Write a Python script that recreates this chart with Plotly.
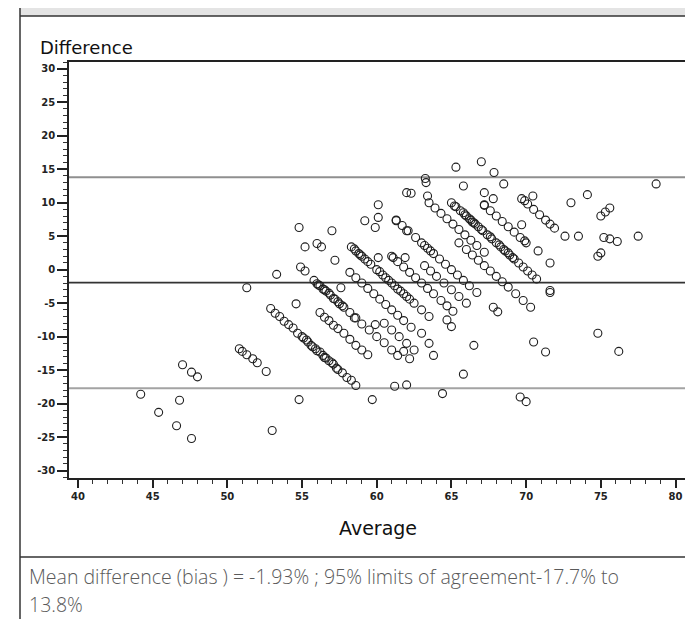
import plotly.graph_objects as go

# ---------------- data ----------------
left_avg = [44.2, 45.4, 46.6, 46.8, 47.0, 47.6, 48.0, 47.6]
left_diff = [-18.6, -21.3, -23.3, -19.5, -14.2, -15.3, -16.0, -25.2]

mid_left_avg = [51.3, 53.3, 53.0, 54.8, 54.6, 50.8, 51.0, 51.3, 51.7, 52.0, 52.6,
                54.8, 55.2, 54.9, 55.2, 56.0, 56.3, 57.0, 57.2, 57.6]
mid_left_diff = [-2.7, -0.7, -24.0, -19.4, -5.1, -11.8, -12.2, -12.7, -13.3, -13.9, -15.2,
                 6.3, 3.4, 0.4, -0.2, 3.9, 3.4, 5.8, 1.4, -2.7]

band50_avg = [52.9, 53.2, 53.5, 53.8, 54.1, 54.4, 54.7, 55.0, 55.3, 55.6, 55.9, 56.2, 56.5,
              56.8, 57.1, 57.4, 57.7, 58.0, 58.3, 58.6, 55.7, 56.0, 56.6, 57.0, 57.3,
              55.1, 55.4, 56.4]
band50_diff = [-5.8, -6.5, -7.0, -7.7, -8.2, -8.7, -9.5, -10.0, -10.5, -11.3, -11.8, -12.3, -13.1,
               -13.6, -14.1, -14.9, -15.4, -16.1, -16.5, -17.3, -11.5, -12.1, -13.2, -13.9, -14.7,
               -10.2, -10.8, -12.8]

band53_avg = [56.2, 56.5, 56.8, 57.1, 57.4, 57.8, 58.2, 58.6, 59.0, 59.4]
band53_diff = [-6.4, -7.1, -7.6, -8.3, -8.8, -9.5, -10.4, -11.3, -12.0, -12.7]

band55_avg = [55.8, 56.0, 56.2, 56.4, 56.6, 56.9, 57.2, 57.5, 57.8, 58.2, 58.6, 59.0, 59.5,
              60.0, 60.5, 61.0, 61.4, 56.1, 56.5, 56.8, 57.1, 57.4, 57.7]
band55_diff = [-1.6, -2.1, -2.4, -2.9, -3.2, -3.8, -4.4, -5.1, -5.6, -6.4, -7.2, -8.1, -9.0,
               -10.0, -10.9, -12.0, -12.8, -2.3, -3.0, -3.5, -4.3, -4.8, -5.4]

band58_avg = [58.2, 58.6, 59.0, 59.4, 59.8, 60.2, 60.6, 61.0, 61.4, 61.8, 62.3]
band58_diff = [-0.4, -1.2, -2.0, -2.8, -3.6, -4.4, -5.2, -6.0, -6.8, -7.6, -8.6]

band60_avg = [58.3, 58.6, 58.9, 59.2, 59.6, 60.0, 60.4, 60.8, 61.2, 61.6, 62.0, 62.5, 63.0,
              63.5, 58.5, 58.8, 60.2, 60.6, 61.0, 61.4, 59.0, 59.4, 61.8, 62.2]
band60_diff = [3.4, 2.8, 2.2, 1.6, 0.8, 0.0, -0.8, -1.6, -2.4, -3.2, -4.0, -5.0, -6.0,
               -7.0, 3.1, 2.4, -0.3, -1.2, -2.0, -2.9, 2.0, 1.2, -3.6, -4.4]

band62_avg = [61.0, 61.4, 61.8, 62.2, 62.6, 63.0, 63.4, 63.8, 64.3, 64.7, 65.1]
band62_diff = [2.0, 1.2, 0.4, -0.4, -1.2, -2.0, -2.8, -3.6, -4.6, -5.4, -6.2]

band63_avg = [63.2, 63.6, 64.0, 64.5, 65.0, 65.5, 66.0]
band63_diff = [0.6, -0.2, -1.0, -2.0, -3.0, -4.0, -5.0]

band65_avg = [61.3, 61.7, 62.1, 62.6, 63.0, 63.4, 63.8, 64.2, 64.6, 65.0, 65.4, 65.8, 66.2, 66.7,
              63.2, 63.6]
band65_diff = [7.4, 6.6, 5.8, 4.8, 4.0, 3.2, 2.4, 1.6, 0.8, 0.0, -0.8, -1.6, -2.4, -3.4,
               3.6, 2.8]

band67_avg = [65.5, 66.0, 66.4, 66.8, 67.2, 67.6, 68.0, 68.4, 68.8, 69.3, 69.8, 70.3]
band67_diff = [4.0, 3.0, 2.2, 1.4, 0.6, -0.2, -1.0, -1.8, -2.6, -3.6, -4.6, -5.6]

band68_avg = [63.5, 63.9, 64.3, 64.7, 65.1, 65.5, 65.9, 66.3, 66.7, 67.2]
band68_diff = [10.0, 9.2, 8.4, 7.6, 6.8, 6.0, 5.2, 4.4, 3.6, 2.6]

band70_avg = [65.0, 65.3, 65.6, 65.9, 66.2, 66.5, 66.8, 67.1, 67.4, 67.7, 68.0, 68.3, 68.6,
              68.9, 69.2, 69.5, 69.8, 70.1, 70.4, 70.7, 65.2, 65.8, 66.4, 67.0, 67.6,
              68.2, 68.5, 68.8, 69.1, 66.0, 66.3, 66.6]
band70_diff = [10.0, 9.4, 8.8, 8.2, 7.6, 7.0, 6.4, 5.8, 5.2, 4.6, 4.0, 3.4, 2.8,
               2.2, 1.6, 1.0, 0.4, -0.2, -0.8, -1.4, 9.5, 8.5, 7.1, 6.0, 4.9,
               3.7, 3.0, 2.5, 1.8, 8.0, 7.4, 6.8]

band72_avg = [67.2, 67.6, 68.0, 68.4, 68.8, 69.2, 69.6, 70.0]
band72_diff = [9.6, 8.8, 8.0, 7.2, 6.4, 5.6, 4.8, 4.0]

band75_avg = [69.7, 70.1, 70.5, 70.9, 71.3, 71.6, 71.9]
band75_diff = [10.6, 9.8, 9.0, 8.2, 7.4, 6.8, 6.2]

upper_avg = [59.2, 59.9, 60.1, 60.1, 61.3, 61.1, 61.9, 62.0, 62.0, 62.3, 63.25, 63.3, 63.4,
             65.3, 65.8, 67.0, 67.85, 68.5, 67.2, 67.8, 67.2, 70.45, 69.9, 73.0, 74.1,
             72.6, 73.5, 69.7, 69.9, 70.8, 71.6, 60.1]
upper_diff = [7.3, 6.3, 7.8, 9.7, 7.3, 1.8, 1.8, 11.5, 5.8, 11.4, 13.6, 13.0, 11.0,
              15.3, 12.5, 16.1, 14.5, 12.8, 11.5, 10.6, 9.7, 11.0, 10.3, 10.0, 11.2,
              5.0, 5.0, 6.7, 4.3, 2.8, 1.0, 1.8]

right_avg = [75.0, 75.3, 75.6, 74.8, 75.0, 75.2, 75.6, 76.1, 77.5, 78.7, 74.8, 76.2,
             71.6, 71.6, 70.5, 71.3, 69.6, 70.0]
right_diff = [8.0, 8.6, 9.2, 2.0, 2.5, 4.8, 4.6, 4.2, 5.0, 12.8, -9.5, -12.2,
              -3.1, -3.4, -10.8, -12.3, -19.0, -19.7]

lower_avg = [58.5, 59.9, 59.7, 61.2, 62.0, 61.8, 62.2, 63.0, 63.5, 63.8, 64.4, 65.8, 66.5,
             67.8, 68.1, 65.0, 64.7, 60.5, 61.0, 61.5, 62.0, 62.5]
lower_diff = [-7.2, -8.2, -19.4, -17.4, -17.2, -12.2, -13.3, -9.5, -11.0, -12.8, -18.5, -15.6, -11.3,
              -5.6, -6.3, -8.5, -7.5, -8.0, -9.0, -10.0, -11.0, -12.0]

BIAS = -1.93
LOA_LOW = -17.7
LOA_HIGH = 13.8

x_tick_vals = [40, 45, 50, 55, 60, 65, 70, 75, 80]
x_tick_text = ["40", "45", "50", "55", "60", "65", "70", "75", "80"]
y_tick_vals = [30, 25, 20, 15, 10, 5, 0, -5, -10, -15, -20, -25, -30]
y_tick_text = ["30", "25", "20", "15", "10", "5", "0", "-5", "-10", "-15", "-20", "-25", "-30"]

caption_lines = ["Mean difference (bias ) = -1.93% ; 95% limits of agreement-17.7% to",
                 "13.8%"]

avg_vals = (left_avg + mid_left_avg + band50_avg + band53_avg + band55_avg + band58_avg
            + band60_avg + band62_avg + band63_avg + band65_avg + band67_avg + band68_avg
            + band70_avg + band72_avg + band75_avg + upper_avg + right_avg + lower_avg)
diff_vals = (left_diff + mid_left_diff + band50_diff + band53_diff + band55_diff + band58_diff
             + band60_diff + band62_diff + band63_diff + band65_diff + band67_diff + band68_diff
             + band70_diff + band72_diff + band75_diff + upper_diff + right_diff + lower_diff)

# ---------------- layout geometry (pixels) ----------------
W, H = 693, 619
PL, PR, PT, PB = 61, 678, 54, 470   # plot area box


def px(xp):
    return (xp - PL) / (PR - PL)


def py(yp):
    return (PB - yp) / (PB - PT)


fig = go.Figure()
fig.add_trace(go.Scatter(
    x=avg_vals, y=diff_vals, mode="markers",
    marker=dict(symbol="circle-open", size=8, color="#1e1e1e", line=dict(width=1.1)),
    showlegend=False, hoverinfo="skip"))

for val, col, w in [(LOA_HIGH, "#8f8f8f", 2), (BIAS, "#333333", 1.6), (LOA_LOW, "#a3a3a3", 2)]:
    fig.add_shape(type="line", xref="paper", yref="y", x0=0, x1=1, y0=val, y1=val,
                  line=dict(color=col, width=w), layer="below")

# page frame: header band, side borders, caption separator
fig.add_shape(type="rect", xref="paper", yref="paper", x0=px(12), x1=px(690), y0=py(0), y1=py(8),
              fillcolor="#e4e4e4", line=dict(width=0), layer="below")
fig.add_shape(type="line", xref="paper", yref="paper", x0=px(12), x1=px(690), y0=py(8), y1=py(8),
              line=dict(color="#333333", width=1.5))
fig.add_shape(type="line", xref="paper", yref="paper", x0=px(12), x1=px(12), y0=py(0), y1=py(619),
              line=dict(color="#333333", width=1.5))
fig.add_shape(type="line", xref="paper", yref="paper", x0=px(690), x1=px(690), y0=py(0), y1=py(619),
              line=dict(color="#333333", width=1.5))
fig.add_shape(type="line", xref="paper", yref="paper", x0=px(12), x1=px(690), y0=py(549), y1=py(549),
              line=dict(color="#333333", width=1.5))

fig.add_annotation(text="Difference", xref="paper", yref="paper", x=px(30), y=py(40),
                   xanchor="left", yanchor="middle", showarrow=False,
                   font=dict(family="DejaVu Sans", size=18, color="#111111"))
fig.add_annotation(text="Average", xref="paper", yref="paper", x=0.5, y=py(520),
                   xanchor="center", yanchor="middle", showarrow=False,
                   font=dict(family="DejaVu Sans", size=19, color="#111111"))
for line_text, line_y in zip(caption_lines, [568, 596]):
    fig.add_annotation(text=line_text, xref="paper", yref="paper", x=px(20), y=py(line_y),
                       xanchor="left", yanchor="middle", align="left", showarrow=False,
                       borderpad=0,
                       font=dict(family="Open Sans", size=19.5, color="#5a5a5a", weight=300))

axis_common = dict(showgrid=False, zeroline=False, showline=True, linecolor="#222222",
                   linewidth=1.5, mirror=True, ticks="outside", tickcolor="#222222",
                   tickwidth=1.5, tickmode="array",
                   tickfont=dict(family="DejaVu Sans", size=10, color="#222222", weight="bold"))

fig.update_layout(
    width=W, height=H,
    margin=dict(l=PL, r=W - PR, t=PT, b=H - PB, pad=0),
    paper_bgcolor="white", plot_bgcolor="white",
    showlegend=False,
    xaxis=dict(range=[39.4, 80.7], tickvals=x_tick_vals, ticktext=x_tick_text, ticklen=8,
               minor=dict(dtick=1, tick0=0, ticks="outside", ticklen=4, tickcolor="#333333",
                          tickwidth=1),
               **axis_common),
    yaxis=dict(range=[-31.1, 31.0], tickvals=y_tick_vals, ticktext=y_tick_text, ticklen=10,
               minor=dict(dtick=1, tick0=0, ticks="outside", ticklen=4, tickcolor="#333333",
                          tickwidth=1),
               **axis_common),
)

fig.write_html("out.html")
